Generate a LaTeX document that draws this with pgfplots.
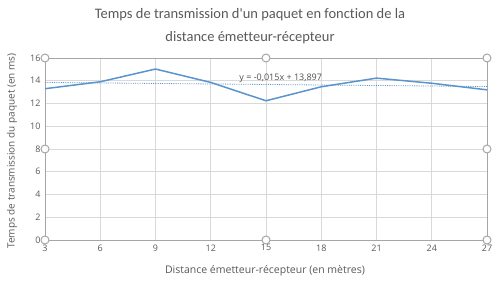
\documentclass[border=0pt]{standalone}
\usepackage{pgfplots}
\pgfplotsset{compat=1.18}
\usepackage{fontspec}
\defaultfontfeatures[\rmfamily]{}
\setmainfont{Carlito}[Ligatures=NoCommon]
\newfontfamily\lab{Open Sans}[Ligatures=NoCommon]
\definecolor{txt}{HTML}{595959}
\definecolor{grd}{HTML}{D9D9D9}
\definecolor{frm}{HTML}{A6A6A6}
\definecolor{ser}{HTML}{5B94CC}
\begin{document}
\begin{tikzpicture}
\useasboundingbox (-45pt,-48pt) rectangle (455pt,240pt);
\begin{axis}[
  at={(0pt,0pt)}, anchor=south west,
  scale only axis, width=442pt, height=182pt,
  xmin=3, xmax=27, ymin=0, ymax=16,
  xtick={3,6,...,27}, ytick={0,2,...,16},
  grid=major, major grid style={grd, line width=0.6pt},
  axis line style={frm, line width=0.8pt},
  tick style={draw=none},
  ticklabel style={font=\lab\fontsize{9}{10}\selectfont, text=txt},
  /pgf/number format/assume math mode=true,
  yticklabel style={xshift=-1pt},
  xticklabel style={yshift=-1pt},
  clip=false,
]
\addplot[ser, line width=1.5pt] coordinates {
 (3,13.30) (6,13.91) (9,15.03) (12,13.85) (15,12.24) (18,13.47) (21,14.23) (24,13.78) (27,13.20)};
\addplot[ser, line width=0.8pt, densely dotted] coordinates {(3,13.852) (27,13.492)};
\node[text=txt!90!black, font=\lab\fontsize{9}{10}\selectfont] at (axis cs:15.8,14.2) {y = -0,015x + 13,897};
\addplot[only marks, mark=*, mark size=4pt, mark options={fill=white, draw=frm, line width=1pt}] coordinates {
 (3,0) (15,0) (27,0) (3,8) (27,8) (3,16) (15,16) (27,16)};
\end{axis}
\node[text=txt, font=\fontsize{14.5}{16}\selectfont] at (205pt,225pt) {Temps de transmission d'un paquet en fonction de la};
\node[text=txt, font=\fontsize{14.5}{16}\selectfont] at (205pt,202pt) {distance émetteur-récepteur};
\node[text=txt, font=\lab\fontsize{10}{12}\selectfont, rotate=90] at (-33pt,89pt) {Temps de transmission du paquet (en ms)};
\node[text=txt, font=\lab\fontsize{10.5}{12}\selectfont] at (220pt,-31pt) {Distance émetteur-récepteur (en mètres)};
\end{tikzpicture}
\end{document}
